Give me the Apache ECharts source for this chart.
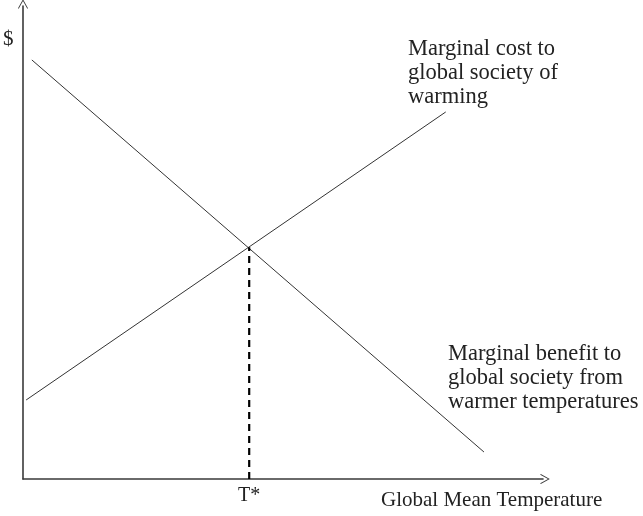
<!DOCTYPE html>
<html>
<head>
<meta charset="utf-8">
<script src="https://cdn.jsdelivr.net/npm/echarts@6/dist/echarts.min.js"></script>
<style>html,body{margin:0;padding:0;background:#fff}#c{width:643px;height:516px}</style>
</head>
<body>
<div id="c"></div>
<script>
// Data (axis units 0..100)
const benefitLine = [[1.7, 88.6], [88.65, 5.7]];   // Marginal benefit (descending)
const costLine = [[0.6, 16.7], [81.3, 77.6]];      // Marginal cost (ascending)
const equilibrium = [43.5, 49];                    // T*
const costLabel = 'Marginal cost to\nglobal society of\nwarming';
const benefitLabel = 'Marginal benefit to\nglobal society from\nwarmer temperatures';
const xTitle = 'Global Mean Temperature';
const yTitle = '$';
const tLabel = 'T*';

const FONT = '"Liberation Serif", "Times New Roman", serif';
const arrowPath = 'path://M0,0 L5,9 L4.3,9.6 L0,1.8 L-4.3,9.6 L-5,9 Z';

const chart = echarts.init(document.getElementById('c'), null, {renderer: 'canvas'});
const axisCommon = {
  type: 'value', min: 0, max: 100,
  splitLine: {show: false}, axisTick: {show: false}, axisLabel: {show: false},
  axisLine: {show: true, symbol: ['none', arrowPath], symbolSize: [10, 11], symbolOffset: [0, 2],
    lineStyle: {color: '#3a3a3a', width: 1.6}}
};
chart.setOption({
  animation: false,
  grid: {left: 23, top: 6, width: 520, height: 473},
  xAxis: Object.assign({}, axisCommon, {
    axisLabel: {show: true, customValues: [equilibrium[0]], formatter: () => tLabel,
      fontFamily: FONT, fontSize: 20, color: '#222', margin: 7}
  }),
  yAxis: Object.assign({}, axisCommon),
  series: [
    {type: 'line', data: benefitLine, symbol: 'none', lineStyle: {color: '#333', width: 1}},
    {type: 'line', data: costLine, symbol: 'none', lineStyle: {color: '#333', width: 1}},
    {type: 'line', data: [[equilibrium[0], 0], equilibrium], symbol: 'none',
      lineStyle: {color: '#000', width: 2.2, type: [7, 5]}}
  ],
  graphic: [
    {type: 'text', left: 408, top: 37, style: {text: costLabel, font: '22.5px ' + FONT, lineHeight: 24, fill: '#222'}},
    {type: 'text', left: 448, top: 342, style: {text: benefitLabel, font: '22.5px ' + FONT, lineHeight: 24, fill: '#222'}},
    {type: 'text', left: 381, top: 490, style: {text: xTitle, font: '21px ' + FONT, fill: '#222'}},
    {type: 'text', left: 3, top: 29, style: {text: yTitle, font: '21px ' + FONT, fill: '#222'}}
  ]
});
</script>
</body>
</html>
